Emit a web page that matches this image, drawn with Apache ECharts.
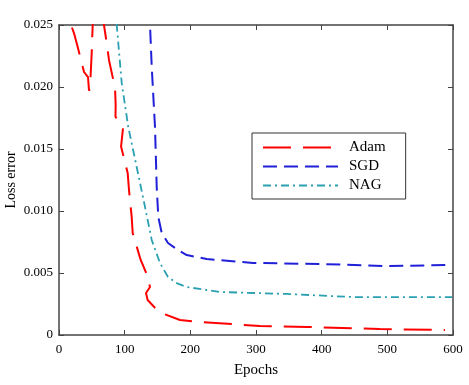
<!DOCTYPE html>
<html><head><meta charset="utf-8">
<script src="https://cdn.jsdelivr.net/npm/echarts@6/dist/echarts.min.js"></script>
<style>html,body{margin:0;padding:0;background:#fff}#c{width:469px;height:385px}</style>
</head><body><div id="c"></div>
<script>
var seriesNames = ['Adam', 'SGD', 'NAG'];
var adamData = [[14,0.028],[18.3,0.025],[22.8,0.02435],[28.5,0.02323],[38.1,0.02121],[44.2,0.0208],[45.7,0.0197],[47.2,0.0199],[49.8,0.02274],[51.3,0.025],[55,0.028],[65,0.028],[68.5,0.025],[73.1,0.02339],[76.1,0.02218],[85.3,0.01992],[86.3,0.01855],[86,0.0176],[97.5,0.01669],[94.5,0.0152],[104.6,0.01306],[106.6,0.01169],[110.7,0.00952],[112.2,0.00823],[124.4,0.00605],[134,0.00484],[138.6,0.00387],[132.5,0.00339],[135,0.00282],[152.3,0.00185],[184.3,0.00121],[214.7,0.00105],[306,0.00073],[377.6,0.00065],[488.8,0.00048],[587.8,0.0004]];
var sgdData = [[137.5,0.028],[138.6,0.025],[141.2,0.02164],[146.2,0.01677],[148.8,0.01194],[151.2,0.00952],[156.4,0.00823],[166,0.00742],[181.2,0.00685],[194.5,0.00645],[224.9,0.00613],[295.4,0.00581],[397.4,0.00573],[499.5,0.00556],[598.5,0.00565]];
var nagData = [[84,0.028],[87.9,0.025],[95.5,0.02032],[105.5,0.01677],[118.3,0.01355],[131,0.01032],[141.2,0.00766],[153.8,0.00581],[166,0.00468],[179.2,0.00419],[194.5,0.00387],[245.2,0.00347],[346.7,0.00331],[447.7,0.00306],[598.5,0.00306]];
var xTicks = [0,100,200,300,400,500,600];
var yTicks = [0,0.005,0.01,0.015,0.02,0.025];
var yName = 'Loss error';

var font = 'Liberation Serif';
var axisCol = '#444';
var chart = echarts.init(document.getElementById('c'));
function xa(pos, show){
  return {type:'value', position:pos, min:0, max:600, interval:100,
    name: show ? 'Epochs' : '', nameLocation:'middle', nameGap:28,
    nameTextStyle:{fontFamily:font, fontSize:15, color:'#000'},
    axisLine:{show:true, onZero:false, lineStyle:{color:axisCol, width:1.5}},
    axisTick:{show:true, inside:true, length:5, lineStyle:{color:axisCol}},
    axisLabel:{show:show, fontFamily:font, fontSize:13, color:'#000', margin:8},
    splitLine:{show:false}};
}
function ya(pos, show){
  return {type:'value', position:pos, min:0, max:0.025, interval:0.005,
    axisLine:{show:true, onZero:false, lineStyle:{color:axisCol, width:1.5}},
    axisTick:{show:true, inside:true, length:5, lineStyle:{color:axisCol}},
    axisLabel:{show:show, fontFamily:font, fontSize:13, color:'#000', margin:6,
      formatter:function(v){return v===0?'0':v.toFixed(3);}},
    splitLine:{show:false}};
}
chart.setOption({
  animation:false,
  grid:{left:59, right:16, top:25, bottom:50, containLabel:false, outerBoundsMode:'none'},
  xAxis:[xa('bottom',true), xa('top',false)],
  yAxis:[ya('left',true), ya('right',false)],
  graphic:[{type:'text', x:4, y:180, rotation:Math.PI/2,
    style:{text:yName, font:'14px "Liberation Serif"', fill:'#000', align:'center', verticalAlign:'top'}}],
  legend:{orient:'vertical', left:252, top:133,
    padding:[7,20,6,10], itemGap:4, itemWidth:75, itemHeight:12,
    borderColor:'#333', borderWidth:1, backgroundColor:'#fff',
    itemStyle:{opacity:0},
    textStyle:{fontFamily:font, fontSize:15, color:'#000', padding:[0,0,0,6]},
    data:seriesNames},
  series:[
    {name:'Adam', type:'line', data:adamData, symbol:'none', clip:true,
     lineStyle:{color:'#ff0000', width:2, type:[28,12]}, itemStyle:{color:'#ff0000'}},
    {name:'SGD', type:'line', data:sgdData, symbol:'none', clip:true,
     lineStyle:{color:'#2020d8', width:2, type:[14,7]}, itemStyle:{color:'#2020d8'}},
    {name:'NAG', type:'line', data:nagData, symbol:'none', clip:true,
     lineStyle:{color:'#2aa0b0', width:1.8, type:[8,4,2,4]}, itemStyle:{color:'#2aa0b0'}}
  ]
});
</script></body></html>
